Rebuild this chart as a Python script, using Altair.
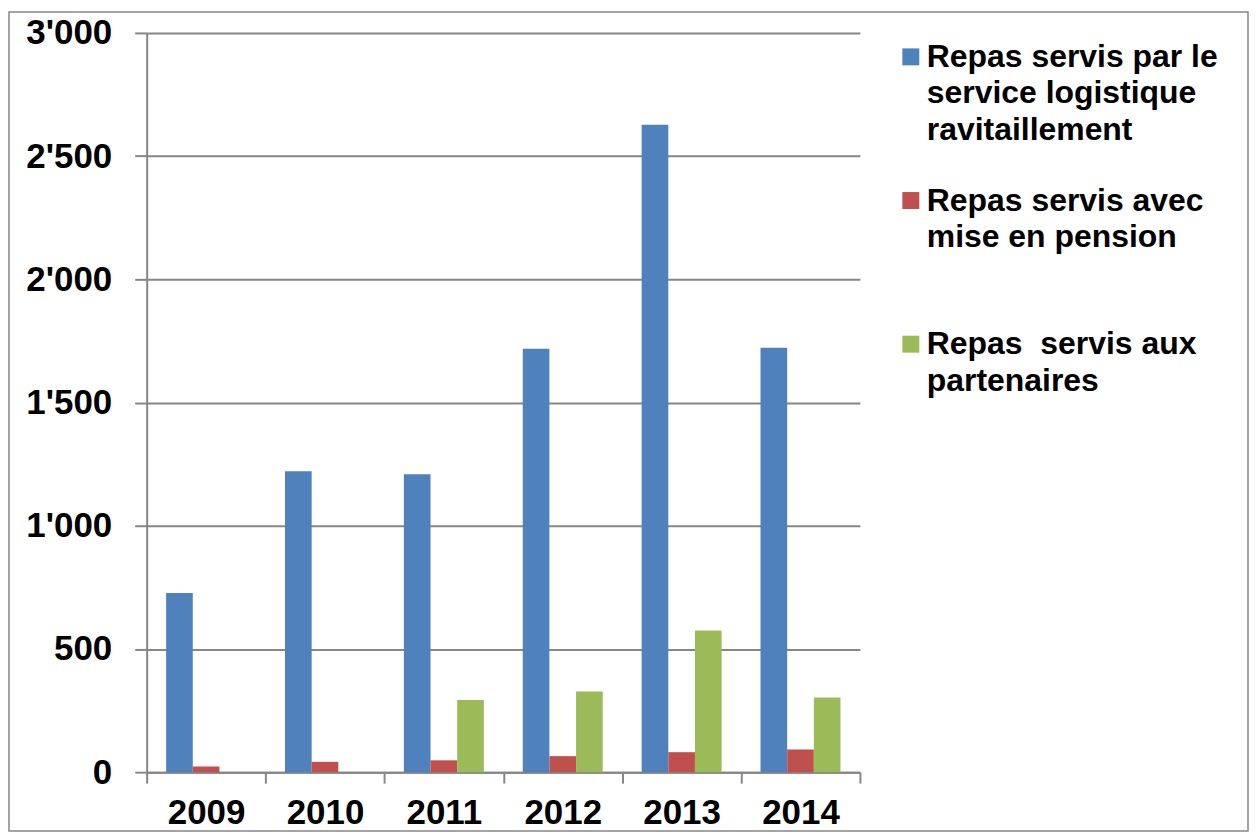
import altair as alt
import pandas as pd

years = ["2009", "2010", "2011", "2012", "2013", "2014"]
series = [
    "Repas servis par le|service logistique|ravitaillement",
    "Repas servis avec|mise en pension|",
    "Repas\u00a0 servis aux|partenaires",
]
logistique = [727, 1221, 1209, 1718, 2627, 1722]
pension = [23, 42, 48, 65, 81, 92]
partenaires = [None, None, 293, 327, 575, 303]
colors = ["#4F81BD", "#C0504D", "#9BBB59"]
y_ticks = [0, 500, 1000, 1500, 2000, 2500, 3000]

rows = []
for vals, s in zip([logistique, pension, partenaires], series):
    for y, v in zip(years, vals):
        if v is not None:
            rows.append({"year": y, "series": s, "value": v})
df = pd.DataFrame(rows)

GRAY = "#868686"
W, H = 715, 741

bars = alt.Chart(df).mark_bar().encode(
    x=alt.X(
        "year:N",
        scale=alt.Scale(domain=years, paddingInner=0, paddingOuter=0),
        axis=alt.Axis(
            title=None, labelAngle=0, tickBand="extent", tickSize=11,
            tickColor=GRAY, tickWidth=2, domainColor=GRAY, domainWidth=2,
            labelFont="Liberation Sans", labelFontSize=35,
            labelFontWeight="bold", labelColor="black", labelPadding=12,
            grid=False,
        ),
    ),
    xOffset=alt.XOffset(
        "series:N",
        scale=alt.Scale(domain=series, paddingInner=0, paddingOuter=0.73),
    ),
    y=alt.Y(
        "value:Q",
        scale=alt.Scale(domain=[0, 3000], nice=False),
        axis=alt.Axis(
            title=None, values=y_ticks,
            labelExpr="replace(format(datum.value, ','), ',', \"'\")",
            labelFont="Liberation Sans", labelFontSize=35, labelFontWeight="bold",
            labelColor="black", labelPadding=23, tickSize=12, tickColor=GRAY,
            tickWidth=2, domainColor=GRAY, domainWidth=2,
            gridColor=GRAY, gridWidth=2,
        ),
    ),
    color=alt.Color(
        "series:N",
        scale=alt.Scale(domain=series, range=colors),
        legend=alt.Legend(
            title=None, orient="none", legendX=750, legendY=8, padding=0,
            symbolType="square", symbolSize=289, symbolStrokeWidth=0,
            labelExpr="split(datum.label, '|')",
            labelFont="Liberation Sans", labelFontSize=32, labelFontWeight="bold",
            labelColor="black", labelLimit=400, labelOffset=0,
            labelBaseline="middle", rowPadding=39,
        ),
    ),
)

border = alt.Chart(pd.DataFrame({"a": [0]})).mark_rect(
    fillOpacity=0, stroke=GRAY, strokeWidth=1.5
).encode(
    x=alt.value(-138), x2=alt.value(1104), y=alt.value(-21), y2=alt.value(800)
)

chart = alt.layer(bars, border).properties(
    width=W, height=H,
    padding={"left": 0, "top": 2, "right": 0, "bottom": 0},
).configure(
    view=alt.ViewConfig(strokeOpacity=0),
    style={"guide-label": {"lineHeight": 36.5}},
)

chart.save("out.html", embed_options={"renderer": "svg", "actions": False})
